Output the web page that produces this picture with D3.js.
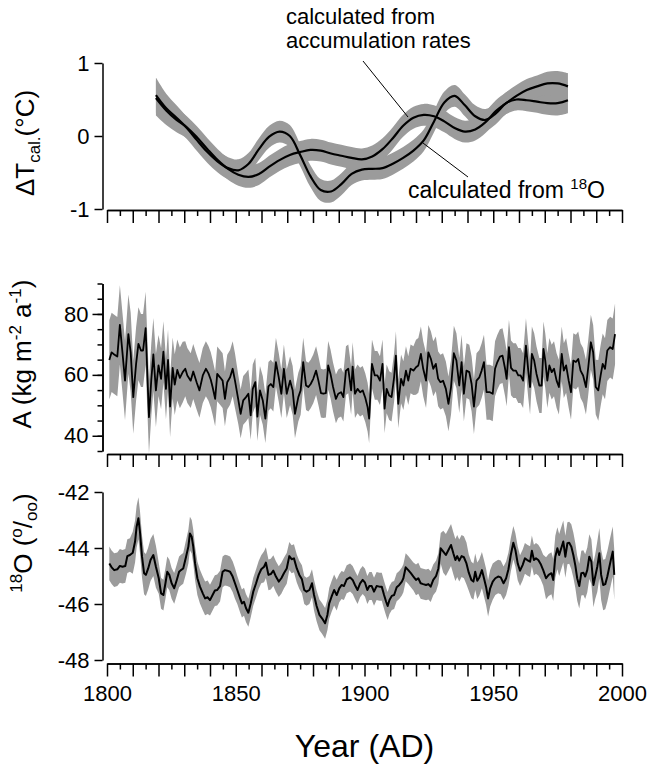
<!DOCTYPE html>
<html><head><meta charset="utf-8">
<script src="https://cdn.jsdelivr.net/npm/d3@7"></script>
<style>
body{margin:0;background:#fff}
svg{display:block}
text{font-family:"Liberation Sans",Arial,sans-serif;fill:#000}
</style>
</head><body>
<svg id="c" width="650" height="766"></svg>
<script>
// ---------- DATA ----------
// Top panel: reconstructed temperature anomalies (deg C)
const tempYears = [1819,1823,1827,1831,1835,1839,1843,1847,1851,1855,1859,1863,1867,1871,1875,1879,1883,1887,1891,1895,1899,1903,1907,1911,1915,1919,1923,1927,1931,1935,1939,1943,1947,1951,1955,1959,1963,1967,1971,1975,1979];
const tempFrom18O = [0.56,0.38,0.25,0.11,-0.06,-0.22,-0.35,-0.44,-0.47,-0.38,-0.18,-0.01,0.06,0.0,-0.26,-0.55,-0.74,-0.76,-0.66,-0.52,-0.46,-0.45,-0.44,-0.38,-0.30,-0.20,-0.06,0.20,0.46,0.55,0.42,0.27,0.22,0.31,0.45,0.50,0.49,0.47,0.45,0.45,0.49];
const tempFromAcc = [0.52,0.35,0.22,0.12,-0.02,-0.18,-0.33,-0.45,-0.53,-0.56,-0.52,-0.42,-0.33,-0.26,-0.22,-0.19,-0.20,-0.24,-0.27,-0.30,-0.32,-0.28,-0.18,-0.03,0.14,0.25,0.29,0.27,0.20,0.11,0.06,0.09,0.19,0.34,0.45,0.55,0.63,0.68,0.72,0.72,0.68];
const tempBandHalf = [0.24,0.20,0.17,0.15,0.15,0.15,0.15,0.15,0.15,0.15,0.15,0.15,0.15,0.15,0.15,0.15,0.15,0.15,0.15,0.15,0.15,0.15,0.15,0.15,0.15,0.15,0.15,0.15,0.15,0.15,0.15,0.15,0.15,0.15,0.15,0.15,0.15,0.15,0.16,0.17,0.18];

// Middle panel: accumulation rate A (kg m-2 a-1)
const accYears = [1800.9,1801.8,1802.8,1804,1805,1806,1807,1808.3,1809.2,1810.2,1811.3,1812.2,1813.2,1814,1815,1816.3,1817.2,1818,1819,1820,1821,1821.9,1822.9,1823.7,1824.5,1825.5,1826.3,1827.3,1828.3,1829.4,1830.4,1831.2,1832.5,1833.5,1834.8,1835.9,1837.2,1838.4,1839.4,1840.3,1841,1842,1842.8,1843.9,1844.9,1845.8,1846.7,1847.8,1848.8,1849.7,1851,1851.9,1852.9,1854,1854.9,1855.8,1856.6,1857.6,1858.4,1859.4,1860.5,1861.5,1862.7,1863.6,1864.6,1865.6,1866.7,1867.7,1868.7,1869.8,1871.1,1872.1,1873,1874.3,1875.2,1876.2,1877.3,1878.2,1879.1,1880.1,1881.2,1882.1,1883.1,1884,1885,1885.9,1886.8,1887.8,1888.9,1889.8,1890.9,1891.8,1892.8,1893.7,1894.8,1895.4,1896.3,1897.3,1898.3,1899.3,1900.3,1901.2,1901.8,1902.9,1904,1905,1906,1907,1907.8,1908.6,1909.6,1910.5,1911.5,1912.2,1913.1,1914.2,1915.1,1916.1,1917,1917.9,1919,1920,1920.9,1921.9,1922.8,1923.9,1924.8,1925.8,1926.7,1927.7,1928.6,1929.5,1930.5,1931.6,1932.6,1933.6,1934.7,1935.7,1936.8,1937.7,1938.6,1939.6,1940.7,1941.6,1942.5,1943.5,1944.6,1945.5,1946.4,1947.4,1948.7,1949.8,1950.7,1951.6,1952.6,1953.6,1954.6,1955.2,1956.1,1956.9,1957.8,1958.8,1959.7,1960.6,1961.6,1962.7,1963.6,1964.3,1965,1965.9,1966.8,1967.9,1968.8,1969.5,1970.2,1971,1971.8,1972.7,1973.6,1974.6,1975.5,1976.6,1977.4,1978.3,1979.3,1980.2,1981.1,1982.1,1983,1983.9,1984.9,1986,1986.9,1987.9,1988.8,1989.8,1990.8,1991.7,1992.5,1993.4,1994.3,1995.4,1996.4,1997.3];
const accValues = [64.9,67.4,66.7,66,76.4,67.4,58.1,73.4,67.4,52.7,63.6,70.2,68,68,75.3,46.1,58.4,66.7,54.9,63.1,58.7,67.6,55.4,64.9,49.6,62.3,56.8,61.6,59,60.9,62,59.8,58.1,61.1,57.6,54.9,59.8,62,60.5,58.4,56,52.1,60.3,59.2,58.1,52.1,57.6,59.2,62,58.1,51.8,47.2,51.6,52.7,53.8,46.7,55.4,57.6,46.3,54.9,51.6,45.6,56.2,57,56,64.2,59.2,53.8,62,53.8,58.1,54.9,47.2,52.7,54.9,64.2,56.5,56,57,58.7,61.4,58.1,54,53.8,54,63.1,60.3,56,52.1,53.8,54.3,52.7,61.4,62,54.9,62.7,53.8,55.4,54.3,54.9,52.5,49.4,45.6,63.6,59.8,59.8,58.1,63.6,48.9,55.4,53.2,52.7,59.2,66.3,50.5,58.7,56.5,61.4,58.1,62,61.4,62.5,63.1,66.9,62,58.1,67.4,65.2,62,63.6,58.7,57.6,58.1,55.4,50.5,56,67.1,64.7,56.5,64.2,53.8,61.4,60.9,57,49.6,58.1,59.2,61.4,64.2,54.3,54.3,53.8,62,64.2,66,66.3,62,58.7,69.1,62.3,61.4,61.4,59.8,59.8,58.1,69.6,61.4,56,66.9,64.7,60.3,56.5,56.5,68.5,64.7,58.1,63.1,60.9,62,58.1,56,66.9,61.4,63.1,58.1,54.3,64.7,64.2,65.2,61.4,59.8,56,62.5,70.7,67.4,56,54.9,59.8,63.6,62,68,69.1,68.5,73.4];
// half width of the grey band, per decade 1800s ... 1990s
const accBandHalf = [13,12,10,9,9,8,8,8,8,8,8,8,9,9,9,9,9,9,9,10];

// Bottom panel: d18O (per mil)
const d18Years = [1800.9,1801.8,1802.8,1804,1805,1806,1807.1,1807.9,1808.9,1810,1810.9,1811.5,1812.2,1812.8,1813.6,1814.4,1815.1,1816,1816.9,1818,1819,1820.1,1821,1821.9,1822.7,1823.4,1824.2,1825.1,1826.1,1827.1,1828,1828.7,1829.6,1830.7,1831.6,1832.2,1832.9,1833.5,1834.2,1835.1,1836.1,1837.2,1838.1,1839.1,1840,1841,1841.9,1842.8,1843.9,1844.9,1845.8,1846.7,1847.8,1848.8,1849.7,1850.6,1851.7,1852.4,1853.2,1854,1854.9,1855.8,1856.8,1857.9,1858.9,1859.9,1861,1861.7,1862.7,1863.6,1864.6,1865.6,1866.7,1867.7,1868.7,1869.8,1870.8,1871.7,1872.6,1873.7,1874.7,1875.7,1876.6,1877.5,1878.6,1879.6,1880.4,1881.4,1882.5,1883.5,1884.7,1885.6,1886.3,1887.2,1888.2,1889.2,1890.2,1891.1,1892,1893.1,1894.4,1895.4,1896.3,1897.3,1898.3,1899.3,1900.2,1901.1,1901.9,1902.8,1903.7,1904.7,1905.8,1906.7,1907.6,1908.4,1909,1909.7,1910.6,1911.5,1912.5,1913.5,1914.5,1915.1,1916,1917,1918,1919,1920,1920.9,1921.8,1922.8,1923.9,1924.8,1925.7,1926.7,1927.8,1928.7,1929.6,1930.6,1931.6,1932.6,1933.6,1934.5,1935.3,1936,1936.8,1937.7,1938.6,1939.6,1940.5,1941.5,1942.3,1943,1943.8,1944.6,1945.6,1946.4,1947.2,1948,1948.8,1949.8,1950.8,1951.9,1952.9,1954,1955,1955.9,1956.8,1957.8,1958.6,1959.5,1960.4,1961.4,1962.3,1963.2,1964.3,1965,1965.8,1966.6,1967.5,1968.4,1969.4,1970.5,1971.5,1972.6,1973.3,1974.1,1974.9,1975.6,1976.4,1977.2,1978,1978.8,1979.5,1980.3,1981.1,1981.9,1982.6,1983.4,1984.2,1985,1985.7,1986.5,1987.3,1988.1,1988.9,1989.6,1990.4,1991.2,1991.9,1992.7,1993.5,1994.3,1995.1,1995.8,1996.4,1997];
const d18Values = [-44.55,-44.69,-44.79,-44.76,-44.64,-44.67,-44.64,-44.29,-44.25,-44.17,-43.77,-43.24,-42.94,-43.42,-44.31,-44.9,-44.96,-44.73,-44.43,-44.25,-44.67,-45.08,-45.62,-45.68,-45.26,-44.85,-44.96,-45.26,-45.44,-45.14,-44.85,-44.79,-44.73,-44.31,-43.95,-43.48,-43.6,-43.95,-44.55,-45.08,-45.38,-45.62,-45.8,-45.76,-45.86,-45.68,-45.52,-45.5,-45.36,-44.85,-44.79,-44.81,-44.85,-45.02,-45.26,-45.5,-45.8,-45.98,-45.92,-46.15,-46.31,-45.98,-45.56,-45.26,-44.96,-44.76,-44.67,-44.52,-44.96,-44.93,-44.81,-45.02,-45.2,-45.08,-44.9,-44.73,-44.29,-44.4,-44.37,-44.73,-44.96,-45.12,-45.5,-45.56,-45.5,-45.26,-45.68,-46.07,-46.39,-46.51,-46.69,-46.39,-45.98,-45.74,-45.5,-45.68,-45.44,-45.32,-45.36,-45.12,-45.05,-45.14,-45.32,-45.5,-45.26,-45.14,-45.24,-45.5,-45.36,-45.36,-45.56,-45.36,-45.38,-45.38,-45.68,-45.92,-46.07,-45.86,-45.71,-45.68,-45.4,-45.32,-45.2,-45.08,-44.69,-44.79,-44.9,-45.02,-45.14,-45.08,-45.26,-45.29,-45.32,-45.29,-45.38,-45.14,-45,-44.73,-44.01,-44.13,-44.25,-44.07,-43.89,-44.19,-44.43,-44.29,-44.45,-44.29,-44.33,-44.55,-44.88,-45.14,-45.2,-44.85,-45.17,-45.05,-44.79,-45.08,-45.38,-45.8,-45.44,-45.2,-45.08,-45.02,-45.05,-45.26,-45.08,-44.76,-44.25,-43.81,-44.07,-44.55,-44.81,-44.61,-44.37,-44.43,-44.49,-44.1,-44.43,-44.37,-44.43,-44.57,-44.79,-45.08,-44.96,-44.9,-45.14,-44.31,-44.01,-44.25,-44.01,-43.77,-44.31,-43.83,-43.81,-43.95,-44.25,-44.64,-45.08,-45.36,-44.9,-44.88,-45.02,-44.79,-44.31,-44.49,-45.32,-45.02,-44.67,-44.19,-44.96,-45.32,-45.29,-45.02,-44.67,-44.37,-44.13,-44.96];
const d18BandHalf = [0.6,0.75,0.55,0.6,0.55,0.5,0.55,0.5,0.55,0.5,0.5,0.5,0.55,0.75,0.65,0.6,0.55,0.75,0.8,0.9];

// Tick values / labels
const xTickLabels = [1800,1850,1900,1950,2000];
const tempTicks = [-1,0,1];
const accTicks = [40,60,80];
const d18Ticks = [-48,-46,-44,-42];

// ---------- DRAW ----------
const svg = d3.select("#c");
const x = d3.scaleLinear().domain([1800,2000]).range([107,622]);
const yT = d3.scaleLinear().domain([-1,1]).range([209,63]);
const yA = d3.scaleLinear().domain([35,90]).range([451,283.5]);
const yO = d3.scaleLinear().domain([-48,-42]).range([660,492]);
const yAxisX = 102.5;
const band = "#9b9b9b";

function decade(y){ return Math.min(19, Math.max(0, Math.floor((y-1800)/10))); }

// top panel bands & lines
[tempFrom18O, tempFromAcc].forEach(vals=>{
  const area = d3.area().curve(d3.curveCatmullRom)
    .x((d,i)=>x(tempYears[i]))
    .y0((d,i)=>yT(d - tempBandHalf[i]))
    .y1((d,i)=>yT(d + tempBandHalf[i]));
  svg.append("path").attr("d", area(vals)).attr("fill", band);
});
[tempFrom18O, tempFromAcc].forEach(vals=>{
  const line = d3.line().curve(d3.curveCatmullRom)
    .x((d,i)=>x(tempYears[i])).y(d=>yT(d));
  svg.append("path").attr("d", line(vals)).attr("fill","none")
    .attr("stroke","#000").attr("stroke-width",2.2);
});

// middle panel
const accArea = d3.area()
  .x((d,i)=>x(accYears[i]))
  .y0((d,i)=>yA(d - accBandHalf[decade(accYears[i])]))
  .y1((d,i)=>yA(d + accBandHalf[decade(accYears[i])]));
svg.append("path").attr("d", accArea(accValues)).attr("fill", band);
const accLine = d3.line().x((d,i)=>x(accYears[i])).y(d=>yA(d));
svg.append("path").attr("d", accLine(accValues)).attr("fill","none")
  .attr("stroke","#000").attr("stroke-width",1.8).attr("stroke-linejoin","round");

// bottom panel
const d18Area = d3.area()
  .x((d,i)=>x(d18Years[i]))
  .y0((d,i)=>yO(d - d18BandHalf[decade(d18Years[i])]))
  .y1((d,i)=>yO(d + d18BandHalf[decade(d18Years[i])]));
svg.append("path").attr("d", d18Area(d18Values)).attr("fill", band);
const d18Line = d3.line().x((d,i)=>x(d18Years[i])).y(d=>yO(d));
svg.append("path").attr("d", d18Line(d18Values)).attr("fill","none")
  .attr("stroke","#000").attr("stroke-width",2).attr("stroke-linejoin","round");

// axes
function styleAxis(g){
  g.selectAll("path,line").attr("stroke","#000").attr("stroke-width",1.5);
  g.selectAll("text").attr("font-size",22).attr("fill","#000")
    .attr("font-family","'Liberation Sans',Arial,sans-serif");
}
const minorYears = d3.range(1805,2000,10);
const majorYears = d3.range(1800,2001,10);
[210, 454, 663.5].forEach((yy, k)=>{
  const gMin = svg.append("g").attr("transform",`translate(0,${yy})`)
    .call(d3.axisBottom(x).tickValues(minorYears).tickSize(6).tickSizeOuter(0).tickFormat(""));
  styleAxis(gMin);
  const gMaj = svg.append("g").attr("transform",`translate(0,${yy})`)
    .call(d3.axisBottom(x).tickValues(majorYears).tickSize(13).tickSizeOuter(0).tickPadding(9)
      .tickFormat(d => (k===2 && xTickLabels.includes(d)) ? String(d) : ""));
  styleAxis(gMaj);
});

const gT = svg.append("g").attr("transform",`translate(${yAxisX},0)`)
  .call(d3.axisLeft(yT).tickValues(tempTicks).tickSize(8).tickSizeOuter(0).tickPadding(5).tickFormat(d=>String(d)));
styleAxis(gT);
const gAm = svg.append("g").attr("transform",`translate(${yAxisX},0)`)
  .call(d3.axisLeft(yA).tickValues(d3.range(35,91,5)).tickSize(5).tickSizeOuter(0).tickFormat(""));
styleAxis(gAm);
const gA = svg.append("g").attr("transform",`translate(${yAxisX},0)`)
  .call(d3.axisLeft(yA).tickValues(accTicks).tickSize(10).tickSizeOuter(0).tickPadding(4).tickFormat(d=>String(d)));
styleAxis(gA);
const gO = svg.append("g").attr("transform",`translate(${yAxisX},0)`)
  .call(d3.axisLeft(yO).tickValues(d18Ticks).tickSize(8).tickSizeOuter(0).tickPadding(5).tickFormat(d=>String(d)));
styleAxis(gO);

// axis titles
const t1 = svg.append("text").attr("transform","translate(34,143) rotate(-90)")
  .attr("text-anchor","middle").attr("font-size",26);
t1.append("tspan").text("\u0394T");
t1.append("tspan").attr("font-size",17).attr("dy",6).text("cal.");
t1.append("tspan").attr("dy",-6).text("(\u00B0C)");

const t2 = svg.append("text").attr("transform","translate(31,354) rotate(-90)")
  .attr("text-anchor","middle").attr("font-size",26);
t2.append("tspan").text("A (kg m");
t2.append("tspan").attr("font-size",17).attr("dy",-10).text("-2");
t2.append("tspan").attr("dy",10).text(" a");
t2.append("tspan").attr("font-size",17).attr("dy",-10).text("-1");
t2.append("tspan").attr("dy",10).text(")");

const t3 = svg.append("text").attr("transform","translate(32,543) rotate(-90)")
  .attr("text-anchor","middle").attr("font-size",26);
t3.append("tspan").attr("font-size",17).attr("dy",-10).text("18");
t3.append("tspan").attr("dy",10).text("O (");
t3.append("tspan").attr("font-size",17).attr("dy",-10).text("o");
t3.append("tspan").attr("dy",10).text("/");
t3.append("tspan").attr("font-size",17).attr("dy",5).text("oo");
t3.append("tspan").attr("dy",-5).text(")");

svg.append("text").attr("x",364.5).attr("y",757).attr("text-anchor","middle")
  .attr("font-size",32).text("Year (AD)");

// annotations
svg.append("text").attr("x",286).attr("y",24).attr("font-size",22).text("calculated from");
svg.append("text").attr("x",286).attr("y",48).attr("font-size",22).text("accumulation rates");
const t4 = svg.append("text").attr("x",408).attr("y",198).attr("font-size",23);
t4.append("tspan").text("calculated from ");
t4.append("tspan").attr("font-size",15).attr("dy",-9).text("18");
t4.append("tspan").attr("dy",9).text("O");
svg.append("line").attr("x1",363).attr("y1",61).attr("x2",408).attr("y2",117)
  .attr("stroke","#000").attr("stroke-width",1);
svg.append("line").attr("x1",423).attr("y1",143).attr("x2",468).attr("y2",177)
  .attr("stroke","#000").attr("stroke-width",1);
</script>
</body></html>
